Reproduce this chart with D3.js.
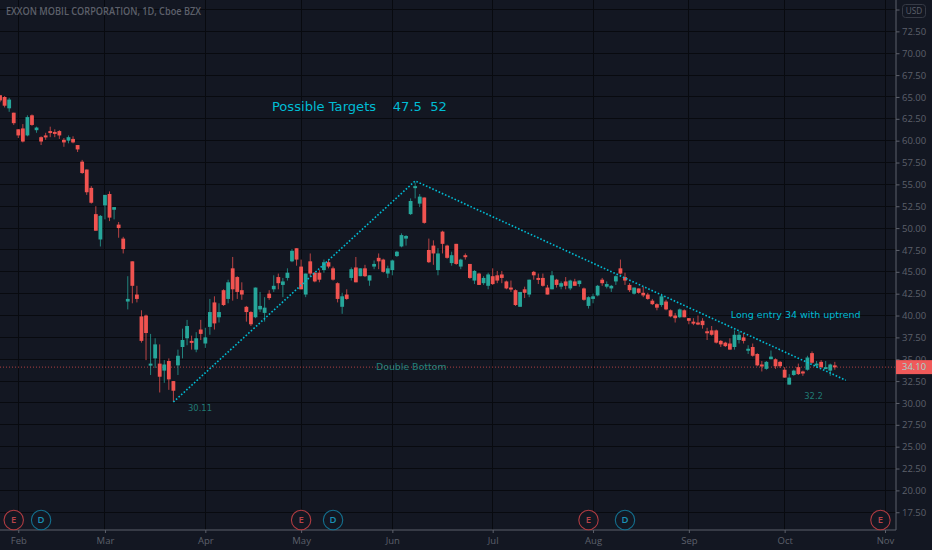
<!DOCTYPE html>
<html>
<head>
<meta charset="utf-8">
<script src="https://cdnjs.cloudflare.com/ajax/libs/d3/7.8.5/d3.min.js"></script>
<style>
  html, body { margin: 0; padding: 0; background: #131722; overflow: hidden; }
  svg { display: block; }
  text { font-family: "Open Sans", sans-serif; }
  .note { font-family: "DejaVu Sans", sans-serif; }
</style>
</head>
<body>
<svg class="chart"></svg>
<script>
// daily bars, one per trading day, left to right
const opens = [
  65.2,65.0,63.7,63.2,61.3,61.4,60.6,62.9,61.2,60.4,
  60.6,61.1,61.0,61.1,60.1,60.0,60.2,59.5,57.6,56.7,
  54.6,51.6,48.7,52.6,53.9,52.1,50.4,48.8,41.6,46.2,
  42.4,39.9,40.0,34.3,35.1,34.5,33.7,34.8,32.5,34.3,
  36.4,37.4,37.1,36.1,38.4,36.8,38.7,41.5,39.8,42.9,
  41.9,45.4,44.4,42.9,41.0,40.4,39.8,40.7,40.3,42.5,
  43.0,44.4,43.5,44.3,46.2,47.7,45.6,42.4,46.2,44.9,
  44.9,45.2,46.1,45.4,43.7,41.0,42.4,44.3,45.5,44.5,
  45.4,44.0,45.6,46.6,46.4,44.8,45.2,46.8,47.9,48.8,
  51.6,54.6,52.8,53.5,47.5,48.0,45.2,49.6,48.0,46.0,
  48.2,45.6,46.9,45.9,44.0,44.8,43.7,43.4,44.5,44.6,
  44.7,43.9,43.2,42.9,41.0,43.0,42.4,45.0,44.3,44.3,
  43.2,43.0,44.1,43.3,43.9,43.1,43.9,43.6,43.1,41.1,
  41.9,42.3,44.1,43.3,43.1,43.9,45.4,44.4,43.5,42.5,
  43.1,42.6,42.4,41.7,41.3,41.2,41.6,40.6,40.0,39.8,
  40.6,39.7,39.3,39.2,39.4,38.2,38.3,38.3,37.1,36.9,
  36.8,36.4,37.2,37.5,36.1,36.4,35.6,34.4,33.9,35.0,
  35.0,34.7,33.8,32.1,33.2,34.1,33.6,33.8,35.7,34.4,
  34.7,34.0,33.7,34.3
];
const closes = [
  64.6,64.0,64.7,62.0,60.6,59.9,62.7,61.8,61.5,59.9,
  60.4,61.0,60.8,60.6,59.8,60.4,59.8,59.0,56.3,54.1,
  52.9,49.7,51.4,53.8,51.2,52.4,50.0,47.6,41.9,43.4,
  41.9,37.1,38.0,34.5,36.7,33.0,34.4,32.7,31.4,35.4,
  37.2,38.8,36.9,37.4,37.9,37.5,40.4,39.1,40.4,41.2,
  43.8,43.0,42.7,42.4,40.4,39.0,43.2,41.1,40.9,42.0,
  43.4,43.7,43.9,44.9,47.4,46.4,43.0,44.8,44.8,43.9,
  44.1,46.1,45.6,44.1,41.9,42.2,41.9,45.3,43.8,45.4,
  44.5,44.6,45.9,46.2,45.0,45.4,46.3,47.3,49.2,49.1,
  53.1,54.8,53.6,50.6,46.1,47.1,47.1,48.2,46.6,46.9,
  45.9,46.4,46.7,44.3,45.1,43.5,44.3,44.7,43.6,44.0,
  44.3,43.1,43.1,41.2,42.7,42.6,44.1,44.6,44.2,43.4,
  42.4,44.6,43.5,43.7,43.4,44.0,43.4,44.0,41.8,42.1,
  42.2,43.4,43.7,43.6,43.4,44.5,44.8,44.0,42.9,43.2,
  42.6,42.3,41.9,41.3,40.9,42.2,40.7,39.9,39.7,40.7,
  39.8,39.4,39.2,39.1,38.9,38.1,37.8,36.9,36.7,36.5,
  36.1,37.8,37.8,37.1,36.2,35.4,34.3,34.3,34.7,35.3,
  34.2,34.2,32.9,32.9,33.7,33.3,33.5,35.2,34.6,34.5,
  34.1,34.1,34.4,34.1
];
const highs = [
  65.2,65.1,64.9,63.2,61.3,61.9,62.9,63.0,61.6,60.5,
  60.9,61.6,61.3,61.2,60.3,60.6,60.5,59.5,57.8,56.7,
  54.8,52.5,51.5,53.8,54.2,52.4,50.7,49.0,44.5,46.2,
  43.4,40.6,40.1,37.9,37.4,36.7,34.9,35.1,32.5,36.1,
  38.5,39.5,37.7,38.1,39.5,38.6,41.9,42.2,41.4,43.0,
  44.1,46.7,44.5,43.8,41.1,40.5,43.2,42.7,42.1,42.9,
  44.6,44.8,44.3,45.4,47.6,47.7,46.4,44.8,47.1,45.0,
  45.2,46.4,46.4,45.6,43.8,42.6,43.0,45.5,46.7,45.4,
  45.8,44.6,46.3,47.1,46.5,45.7,46.4,47.4,49.4,49.2,
  53.4,55.2,53.9,53.5,48.8,48.6,47.7,49.7,48.1,47.3,
  48.2,46.5,47.1,45.9,45.2,44.9,44.5,44.9,45.4,45.1,
  45.1,44.0,44.0,43.0,42.7,43.3,44.1,45.1,44.8,44.8,
  43.5,45.1,44.2,43.9,44.4,44.1,44.2,44.0,43.2,42.2,
  42.5,43.5,44.3,43.9,43.5,44.6,46.4,44.9,43.7,43.2,
  43.1,43.3,42.6,41.9,41.4,42.5,41.8,40.7,40.3,40.8,
  40.7,39.7,39.7,40.0,39.7,38.6,38.8,38.4,37.2,37.0,
  37.4,38.3,38.2,38.0,36.6,36.8,35.7,34.8,34.8,36.0,
  35.1,34.8,34.1,33.3,33.8,34.5,33.7,35.4,35.9,34.8,
  34.9,34.8,34.5,34.7
];
const lows = [
  64.4,63.8,63.3,61.8,60.3,59.8,60.5,61.7,60.9,59.5,
  60.1,60.4,60.4,60.2,59.3,59.7,59.7,58.7,56.2,53.8,
  52.8,49.7,47.9,51.0,50.8,51.0,48.9,47.1,40.7,41.4,
  41.5,36.9,34.9,33.2,34.0,31.2,32.3,31.5,30.1,33.2,
  35.1,36.6,36.1,35.8,37.2,36.3,37.8,38.4,39.2,41.1,
  41.4,41.7,41.9,41.8,39.3,38.8,39.7,40.4,39.3,41.8,
  42.7,43.0,42.1,44.0,46.1,45.7,43.0,42.1,44.5,43.8,
  43.8,44.9,45.4,44.0,41.5,40.2,41.8,44.0,43.8,44.5,
  44.4,43.4,45.3,45.3,44.9,44.3,44.6,46.7,47.8,48.0,
  51.5,53.4,52.4,50.5,46.0,45.8,44.6,47.1,46.5,45.7,
  45.8,45.3,46.4,44.2,43.6,43.5,43.5,43.0,43.5,43.7,
  43.7,43.0,42.7,41.1,41.0,42.0,42.1,44.1,43.6,43.3,
  42.4,43.0,43.2,43.0,43.0,42.9,43.4,43.3,41.7,40.8,
  41.4,42.2,43.4,43.1,42.7,43.5,44.7,43.5,42.7,42.4,
  42.5,42.1,41.8,41.2,40.6,41.0,40.6,39.8,39.2,39.7,
  39.8,39.0,38.9,38.9,38.5,37.2,37.7,36.8,36.4,36.4,
  36.1,36.1,36.8,36.8,35.6,35.3,34.2,33.6,33.8,35.0,
  33.9,34.0,32.9,32.1,33.1,33.2,33.1,33.7,34.5,34.0,
  34.0,34.0,33.1,33.8
];

const priceTicks = [17.5,20,22.5,25,27.5,30,32.5,35,37.5,40,42.5,45,47.5,50,52.5,55,57.5,60,62.5,65,67.5,70,72.5,75];
const monthLabels = ["Feb","Mar","Apr","May","Jun","Jul","Aug","Sep","Oct","Nov"];
const monthBars = [4,23,45,66,86,108,130,151,172,194];

const eventBars = [3,9,66,73,129,137,193];
const eventKinds = ["E","D","E","D","E","D","E"];

// dotted trend line: bar number, price
const trendBars = [38,91,185.4];
const trendPrices = [30.11,55.4,32.6];

const lastPrice = 34.10;
const bg = "#131722", gridColor = "#080a0f", axisColor = "#5d606b", labelColor = "#5d606b";
const teal = "#26a69a", red = "#f05350", noteColor = "#00bcd4";

const width = 932, height = 550, plotRight = 896, plotBottom = 530;

const x = d3.scaleLinear().domain([0, 194]).range([0.05, 885]);
const y = d3.scaleLinear().domain([15.47, 76.09]).range([plotBottom, 0]);

const svg = d3.select(".chart").attr("width", width).attr("height", height);
svg.append("rect").attr("width", width).attr("height", height).attr("fill", bg);

// grid
svg.append("g").selectAll("line").data(monthBars).enter().append("line")
   .attr("x1", d => x(d)).attr("x2", d => x(d))
   .attr("y1", 0).attr("y2", plotBottom)
   .attr("stroke", gridColor).attr("shape-rendering", "crispEdges");
svg.append("g").selectAll("line").data(priceTicks).enter().append("line")
   .attr("x1", 0).attr("x2", plotRight)
   .attr("y1", d => y(d)).attr("y2", d => y(d))
   .attr("stroke", gridColor).attr("shape-rendering", "crispEdges");

// axes, the 75.00 label sits behind the USD box so only its tick is kept
const priceFormat = d3.format(".2f");
const yAxis = d3.axisRight(y).tickValues(priceTicks)
   .tickFormat(d => d === 75 ? "" : priceFormat(d)).tickSize(3.5).tickPadding(2.5);
const yG = svg.append("g").attr("transform", `translate(${plotRight},0)`).call(yAxis);
const xAxis = d3.axisBottom(x).tickValues(monthBars).tickFormat((d, i) => monthLabels[i]).tickSize(3).tickPadding(4.5);
const xG = svg.append("g").attr("transform", `translate(0,${plotBottom})`).call(xAxis);
[yG, xG].forEach(g => {
  g.selectAll("text").attr("fill", labelColor).attr("font-size", 9.5).attr("font-weight", 500)
   .attr("font-family", '"Open Sans", sans-serif');
  g.selectAll("line").attr("stroke", axisColor);
  g.select(".domain").remove();
});
svg.append("line").attr("x1", plotRight).attr("x2", plotRight).attr("y1", 0).attr("y2", plotBottom).attr("stroke", axisColor);
svg.append("line").attr("x1", 0).attr("x2", plotRight).attr("y1", plotBottom).attr("y2", plotBottom).attr("stroke", axisColor);

// last price line
svg.append("line").attr("x1", 0).attr("x2", plotRight)
   .attr("y1", y(lastPrice)).attr("y2", y(lastPrice))
   .attr("stroke", red).attr("stroke-opacity", 0.7).attr("stroke-dasharray", "1,2");

// candles
const color = i => closes[i] >= opens[i] ? teal : red;
const bar = svg.append("g").selectAll("g").data(opens).enter().append("g");
bar.append("line")
   .attr("x1", (d, i) => x(i)).attr("x2", (d, i) => x(i))
   .attr("y1", (d, i) => y(highs[i])).attr("y2", (d, i) => y(lows[i]))
   .attr("stroke", (d, i) => color(i)).attr("stroke-opacity", 0.75);
bar.append("rect")
   .attr("x", (d, i) => x(i) - 1.9).attr("width", 3.8)
   .attr("y", (d, i) => y(Math.max(opens[i], closes[i])))
   .attr("height", (d, i) => Math.max(2, Math.abs(y(opens[i]) - y(closes[i]))))
   .attr("fill", (d, i) => color(i));

// trend line
const trend = d3.line().x(d => x(d)).y((d, i) => y(trendPrices[i]));
svg.append("path").attr("d", trend(trendBars))
   .attr("fill", "none").attr("stroke", noteColor).attr("stroke-width", 1.6)
   .attr("stroke-dasharray", "1.6,1.9");

// notes
function note(bar, price, txt, size, fill, opacity) {
  svg.append("text").attr("class", "note")
     .attr("x", x(bar)).attr("y", y(price))
     .attr("font-size", size).attr("fill", fill).attr("fill-opacity", opacity)
     .text(txt).style("white-space", "pre");
}
note(59.6, 63.4, "Possible Targets    47.5  52", 13.1, noteColor, 1);
note(160.2, 39.7, "Long entry 34 with uptrend", 9.5, noteColor, 1);
note(82.4, 33.8, "Double Bottom", 9.4, teal, 0.75);
note(41.2, 29.1, "30.11", 8.4, teal, 0.7);
note(176.3, 30.4, "32.2", 8.4, teal, 0.7);

// earnings and dividend markers
const ev = svg.append("g").selectAll("g").data(eventBars).enter().append("g")
   .attr("transform", d => `translate(${x(d)},520)`);
ev.append("circle").attr("r", 9.7).attr("fill", bg)
   .attr("stroke", (d, i) => eventKinds[i] === "E" ? "#b03c42" : "#14708f").attr("stroke-width", 1.1);
ev.append("text").attr("text-anchor", "middle").attr("dy", "0.35em").attr("font-size", 9.5).attr("font-weight", 600)
   .attr("fill", (d, i) => eventKinds[i] === "E" ? "#b8434a" : "#1a8fb5")
   .text((d, i) => eventKinds[i]);

// last price label
svg.append("rect").attr("x", plotRight).attr("y", y(lastPrice) - 7).attr("width", width - plotRight).attr("height", 14).attr("fill", "#f05a5a");
svg.append("text").attr("x", plotRight + 6).attr("y", y(lastPrice)).attr("dy", "0.35em")
   .attr("font-size", 9.5).attr("font-weight", 500).attr("fill", "#9fd6cf").text(priceFormat(lastPrice));

// title and currency box
svg.append("text").attr("x", 6).attr("y", 14.5).attr("font-size", 10).attr("font-weight", 600)
   .attr("textLength", 195).attr("lengthAdjust", "spacingAndGlyphs").attr("fill", labelColor)
   .text("EXXON MOBIL CORPORATION, 1D, Cboe BZX");
svg.append("rect").attr("x", 902.5).attr("y", 4.5).attr("width", 23).attr("height", 13).attr("rx", 3)
   .attr("fill", bg).attr("stroke", "#363a45");
svg.append("text").attr("x", 914).attr("y", 11).attr("dy", "0.35em").attr("text-anchor", "middle")
   .attr("font-size", 8.2).attr("fill", labelColor).text("USD");
</script>
</body>
</html>
